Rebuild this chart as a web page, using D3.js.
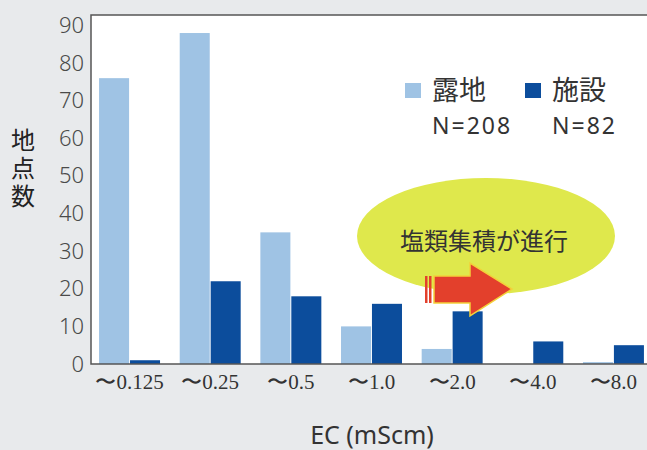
<!DOCTYPE html>
<meta charset="utf-8">
<style>
body {
  margin: 0;
  background-color: #e8eaec;
}
svg { display: block; }
.axis--y path, .axis--x path { display: none; }
.axis--y line, .axis--x line { display: none; }
</style>
<body>
<svg width="647" height="450"></svg>
<script src="https://cdn.jsdelivr.net/npm/d3@7"></script>
<script>

// data
var categories = ["〜0.125", "〜0.25", "〜0.5", "〜1.0", "〜2.0", "〜4.0", "〜8.0"];
var rojiValues = [76, 88, 35, 10, 4, 0, 0.5];      // 露地 N=208
var shisetsuValues = [1, 22, 18, 16, 14, 6, 5];     // 施設 N=82
var yTicks = [0, 10, 20, 30, 40, 50, 60, 70, 80, 90];
var seriesNames = ["露地", "施設"];
var seriesN = ["N=208", "N=82"];
var colors = ["#9fc3e4", "#0c4d9c"];

var svg = d3.select("svg"),
    plotL = 91, plotT = 15, plotB = 364, plotR = 660;

var x = d3.scaleBand()
    .domain(categories)
    .range([plotL, 652])
    .paddingInner(0.244)
    .paddingOuter(0.1);

var x1 = d3.scaleBand()
    .domain([0, 1])
    .range([0, x.bandwidth()])
    .paddingInner(0.03);

var y = d3.scaleLinear()
    .domain([0, 90])
    .range([plotB, 25.5]);

// white plot panel + frame
svg.append("rect")
    .attr("x", plotL).attr("y", plotT)
    .attr("width", plotR - plotL).attr("height", plotB - plotT)
    .attr("fill", "#ffffff");

// bars
var rows = categories.map(function(c, i) { return {cat: c, vals: [rojiValues[i], shisetsuValues[i]]}; });

var grp = svg.append("g").selectAll("g")
    .data(rows)
  .enter().append("g")
    .attr("transform", function(d) { return "translate(" + x(d.cat) + ",0)"; });

grp.selectAll("rect")
    .data(function(d) { return d.vals.map(function(v, k) { return {k: k, v: v}; }); })
  .enter().append("rect")
    .attr("x", function(d) { return x1(d.k); })
    .attr("width", x1.bandwidth())
    .attr("y", function(d) { return y(d.v); })
    .attr("height", function(d) { return y(0) - y(d.v); })
    .attr("fill", function(d) { return colors[d.k]; });

svg.append("path")
    .attr("d", "M" + plotR + "," + plotT + "H" + plotL + "V" + plotB + "H" + plotR)
    .attr("fill", "none")
    .attr("stroke", "#555")
    .attr("stroke-width", 1.5);

// y axis
var yGroup = svg.append("g")
    .attr("class", "axis axis--y")
    .attr("transform", "translate(" + plotL + ",0)")
    .call(d3.axisLeft(y).tickValues(yTicks).tickSize(0).tickPadding(7));

yGroup.selectAll("text")
    .style("fill", "#4a4a4a")
    .style("font-size", "22px")
    .style("font-family", "Noto Sans")
    .style("font-weight", "300");

// x axis
var xGroup = svg.append("g")
    .attr("class", "axis axis--x")
    .attr("transform", "translate(0," + plotB + ")")
    .call(d3.axisBottom(x).tickSize(0).tickPadding(10));

xGroup.selectAll("text")
    .style("fill", "#333")
    .style("font-size", "21px")
    .style("font-family", "Liberation Serif");

// axis titles
svg.append("text")
    .attr("x", 23).attr("y", 128)
    .style("writing-mode", "vertical-rl")
    .style("letter-spacing", "4px")
    .style("font-family", "Noto Sans CJK JP")
    .style("font-size", "24px")
    .style("fill", "#222")
    .text("地点数");

svg.append("text")
    .attr("x", 372).attr("y", 444)
    .attr("text-anchor", "middle")
    .style("font-family", "Noto Sans")
    .style("font-size", "25px")
    .style("fill", "#333")
    .text("EC (mScm)");

// legend
var lx = [405, 525];
seriesNames.forEach(function(name, i) {
  svg.append("rect")
      .attr("x", lx[i]).attr("y", 83)
      .attr("width", 16).attr("height", 15)
      .attr("fill", colors[i]);
  svg.append("text")
      .attr("x", lx[i] + 27).attr("y", 100)
      .style("font-family", "Noto Sans CJK JP")
      .style("font-size", "27px")
      .style("fill", "#333")
      .text(name);
  svg.append("text")
      .attr("x", lx[i] + 27).attr("y", 134)
      .style("font-family", "Noto Sans")
      .style("font-size", "23px")
      .style("letter-spacing", "2px")
      .style("fill", "#333")
      .text(seriesN[i]);
});

// annotation: ellipse + arrow
svg.append("ellipse")
    .attr("cx", 486).attr("cy", 236)
    .attr("rx", 129).attr("ry", 58)
    .attr("fill", "#dfe84c");

svg.append("text")
    .attr("x", 484).attr("y", 250)
    .attr("text-anchor", "middle")
    .style("font-family", "Noto Sans CJK JP")
    .style("font-size", "24px")
    .style("fill", "#333")
    .text("塩類集積が進行");

var arrow = svg.append("g");
arrow.append("path")
    .attr("d", "M434,276H470V263L512,289L470,316V303H434Z")
    .attr("fill", "#e3402c")
    .attr("stroke", "#f3d13a")
    .attr("stroke-width", 1.5);
[425, 429].forEach(function(sx) {
  arrow.append("rect")
      .attr("x", sx).attr("y", 276)
      .attr("width", 2.5).attr("height", 27)
      .attr("fill", "#e3402c");
});

</script>
</body>
